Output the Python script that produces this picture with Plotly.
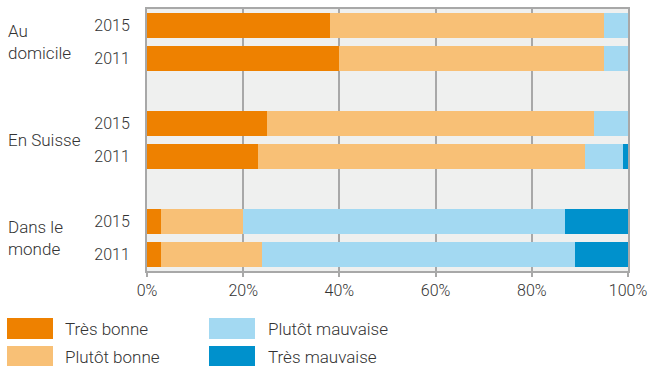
import plotly.graph_objects as go

groups = ["Au<br>domicile", "En Suisse", "Dans le<br>monde"]
years = ["2015", "2011", "2015", "2011", "2015", "2011"]
slots = [0, 1, 3, 4, 6, 7]

series = ["Très bonne", "Plutôt bonne", "Plutôt mauvaise", "Très mauvaise"]
tres_bonne = [38, 40, 25, 23, 3, 3]
plutot_bonne = [57, 55, 68, 68, 17, 21]
plutot_mauvaise = [5, 5, 7, 8, 67, 65]
tres_mauvaise = [0, 0, 0, 1, 13, 11]
values = [tres_bonne, plutot_bonne, plutot_mauvaise, tres_mauvaise]
colors = ["#EE8100", "#F8C076", "#A3D9F2", "#0091CC"]

FONT = "Roboto"
TXT = "#333333"

W, H = 650, 366
L, R, T, B = 147, 22, 9, 95
pw, ph = W - L - R, H - T - B

def px_x(p):
    return (p - L) / pw

def px_y(p):
    return (H - B - p) / ph

fig = go.Figure()
for name, vals, col in zip(series, values, colors):
    fig.add_trace(go.Bar(
        y=slots, x=vals, name=name, orientation="h",
        marker=dict(color=col, line=dict(width=0)),
        width=0.76, showlegend=False,
    ))

annotations = []
for g, yv in zip(groups, [0.5, 3.5, 6.5]):
    annotations.append(dict(
        text=g, x=px_x(6), xref="paper", y=yv, yref="y",
        xanchor="left", yanchor="middle", align="left", showarrow=False,
        font=dict(family=FONT, size=17, color=TXT, weight=300),
    ))

shapes = []
legend_pos = [(7, 318, 63), (7, 346, 63), (209, 318, 266), (209, 346, 266)]
for name, col, (sx, sy, tx) in zip(series, colors, legend_pos):
    shapes.append(dict(
        type="rect", xref="paper", yref="paper",
        x0=px_x(sx), x1=px_x(sx + 46), y0=px_y(sy), y1=px_y(sy + 21),
        fillcolor=col, line=dict(width=0),
    ))
    annotations.append(dict(
        text=name, x=px_x(tx), xref="paper", y=px_y(sy + 10.5), yref="paper",
        xanchor="left", yanchor="middle", showarrow=False,
        font=dict(family=FONT, size=17, color=TXT, weight=300),
    ))

fig.update_layout(
    template="none",
    barmode="stack",
    width=W, height=H,
    margin=dict(l=L, r=R, t=T, b=B, pad=0, autoexpand=False),
    paper_bgcolor="white",
    plot_bgcolor="#EFF0EF",
    bargap=0,
    font=dict(family=FONT, size=16, color=TXT, weight=300),
    xaxis=dict(
        range=[0, 100], tickvals=[0, 20, 40, 60, 80, 100],
        ticktext=["0%", "20%", "40%", "60%", "80%", "100%"],
        showgrid=True, gridcolor="#A8A8A8", gridwidth=2,
        showline=True, linecolor="#A8A8A8", linewidth=2, mirror=True,
        ticks="outside", ticklen=4, tickwidth=2, tickcolor="#A8A8A8",
        zeroline=False, fixedrange=True, automargin=False,
        tickfont=dict(family=FONT, size=16, color=TXT, weight=300),
    ),
    yaxis=dict(
        range=[7.5, -0.5], tickvals=slots, ticktext=years,
        showgrid=False, zeroline=False,
        showline=True, linecolor="#A8A8A8", linewidth=2, mirror=True,
        ticks="", ticklabelstandoff=12, fixedrange=True, automargin=False,
        tickfont=dict(family=FONT, size=16, color=TXT, weight=300),
    ),
    annotations=annotations,
    shapes=shapes,
)

fig.write_html(
    "out.html",
    config={"displayModeBar": False},
    post_script="document.body.style.margin='0';document.body.style.overflow='hidden';",
)
